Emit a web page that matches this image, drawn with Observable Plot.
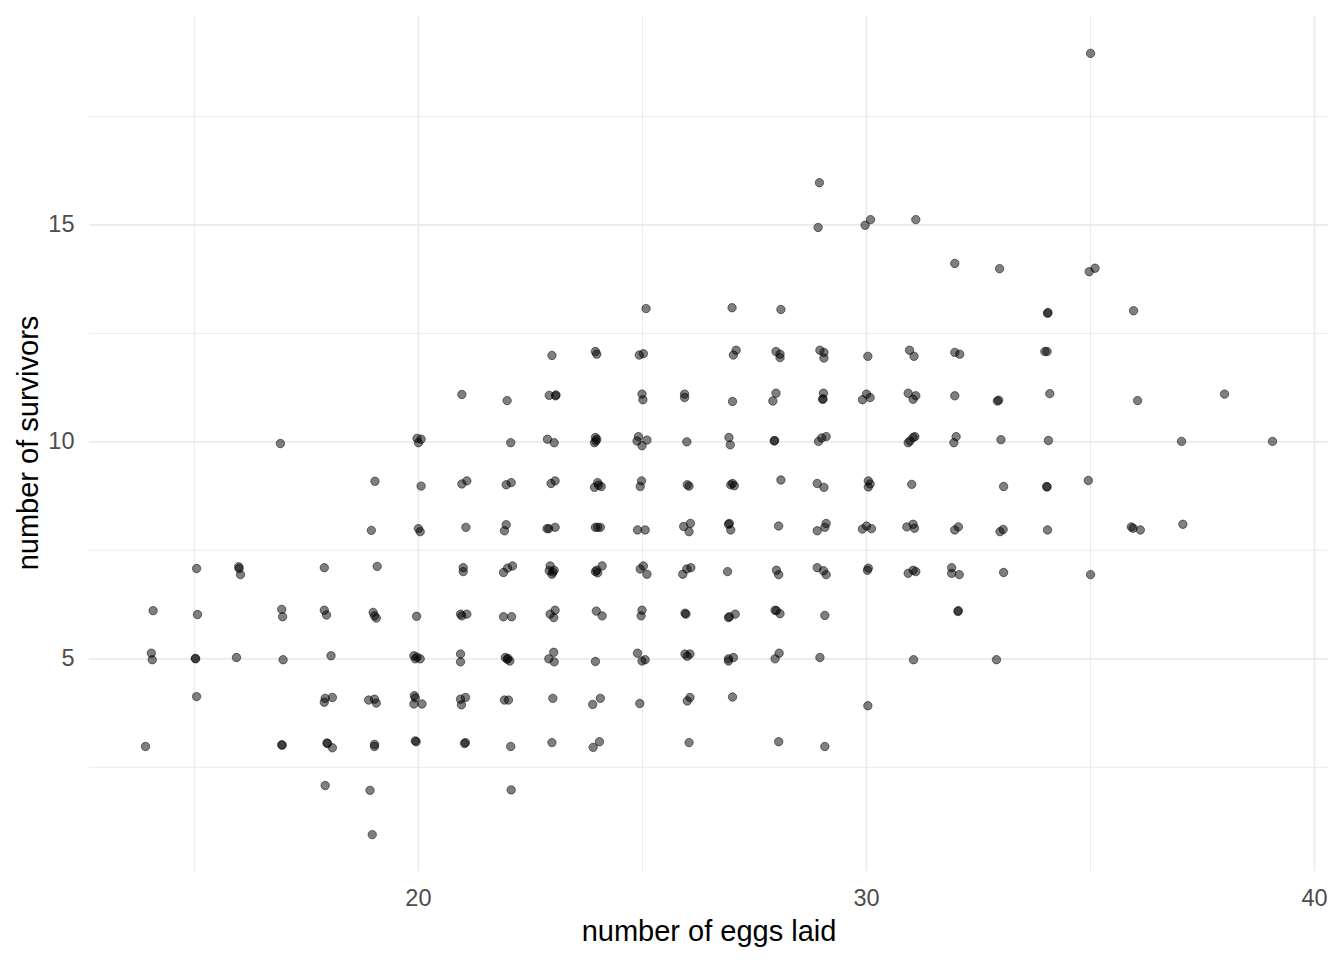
<!DOCTYPE html>
<html>
<head>
<meta charset="utf-8">
<script src="https://cdn.jsdelivr.net/npm/d3@7"></script>
<script src="https://cdn.jsdelivr.net/npm/@observablehq/plot@0.6"></script>
<style>
  html, body { margin: 0; padding: 0; background: #fff; }
  #chart { width: 1344px; height: 960px; }
</style>
</head>
<body>
<div id="chart"></div>
<script>
const eggs = [
  16.92,19.03,18.95,15.05,15.99,16.00,16.03,17.90,19.08,14.08,15.07,16.95,16.97,17.90,17.95,18.99,19.02,19.06,
  14.04,14.06,15.03,15.02,15.94,16.98,18.05,15.05,17.90,18.08,17.92,18.89,19.02,19.06,13.91,16.95,16.96,17.96,
  17.97,18.08,19.02,19.02,17.92,18.92,18.97,
  22.98,23.95,23.98,24.93,25.02,20.97,21.98,22.92,23.07,23.06,24.99,25.01,25.94,25.94,19.97,20.06,20.00,22.06,
  22.88,23.03,23.95,23.93,23.98,23.96,24.91,25.10,24.99,24.88,25.99,20.06,20.97,21.08,21.96,22.07,22.96,23.05,
  24.00,23.93,24.08,24.02,24.98,24.95,26.00,26.04,20.00,20.04,21.06,21.96,21.92,22.91,23.05,22.87,23.95,24.06,
  24.00,24.89,25.06,25.92,26.07,26.04,21.00,21.00,21.90,21.99,22.10,22.94,22.98,23.03,22.92,23.00,23.98,24.10,
  23.95,24.00,24.95,25.10,25.02,25.90,25.99,26.08,
  19.96,20.94,21.08,20.97,21.90,22.08,22.94,23.05,23.02,23.97,24.10,24.99,24.97,25.95,25.97,19.90,20.04,19.93,
  19.97,20.94,20.94,21.94,22.04,21.98,22.00,22.91,23.02,23.03,23.95,24.89,24.99,25.06,25.95,26.06,26.00,19.91,
  19.90,20.08,19.93,20.94,21.05,20.96,21.92,22.01,23.00,23.89,24.06,24.94,26.00,26.06,19.95,19.93,21.05,21.03,
  22.06,22.98,23.90,24.04,26.04,22.07,
  27.03,27.09,27.98,28.07,28.07,28.96,29.05,29.05,30.03,30.96,31.06,31.97,32.08,27.01,27.91,27.98,29.04,29.02,
  29.03,29.91,30.00,30.08,30.93,31.10,31.04,31.97,26.93,26.96,27.94,27.95,28.93,29.10,29.00,30.97,31.04,30.93,
  31.08,32.00,31.95,27.01,26.97,27.05,28.09,28.90,29.05,30.04,30.04,30.08,31.01,26.94,26.97,26.92,28.04,28.90,
  29.10,29.07,29.91,30.00,30.11,30.90,31.04,31.07,31.97,32.05,26.90,27.99,28.04,28.90,29.04,29.10,30.02,30.04,
  30.93,31.10,31.04,31.90,32.07,31.90,
  26.94,27.07,26.92,27.96,28.07,27.99,29.07,32.05,32.04,26.92,27.03,26.92,27.96,28.05,28.96,31.05,27.01,30.03,
  28.04,29.07,
  33.98,34.03,32.92,32.95,34.09,36.05,37.99,33.00,34.06,37.03,39.06,33.06,34.03,34.02,34.95,32.98,33.05,34.04,
  35.91,35.95,36.11,37.06,33.06,35.00,32.90,
  28.95,28.92,29.97,30.09,25.08,27.00,28.09,
  35.00,31.10,31.97,32.97,34.97,35.10,34.05,34.04,35.96
];
const survivors = [
  9.96,9.09,7.96,7.08,7.12,7.08,6.94,7.10,7.13,6.11,6.02,6.14,5.97,6.12,6.01,6.07,5.99,5.94,
  5.13,4.98,5.00,5.01,5.03,4.98,5.07,4.13,4.00,4.11,4.09,4.05,4.07,3.98,2.98,3.02,3.01,3.06,
  3.05,2.95,3.03,2.98,2.08,1.97,0.95,
  11.99,12.08,12.02,12.00,12.03,11.09,10.95,11.07,11.08,11.06,11.10,10.97,11.10,11.02,10.08,10.06,9.98,9.98,
  10.06,9.98,10.10,9.98,10.06,10.02,10.12,10.04,9.91,10.02,10.00,8.98,9.03,9.10,9.01,9.06,9.04,9.10,
  9.06,8.95,8.97,9.00,9.10,8.97,9.01,8.98,8.00,7.93,8.03,8.09,7.95,8.00,8.03,8.00,8.03,8.03,
  8.03,7.97,7.97,8.05,8.12,7.93,7.10,7.01,6.99,7.09,7.14,7.14,6.95,7.04,7.03,7.00,7.04,7.14,
  7.01,6.98,7.07,6.95,7.14,6.95,7.07,7.10,
  5.98,6.03,6.03,5.99,5.97,5.97,6.03,6.12,5.95,6.10,5.99,6.12,5.99,6.05,6.03,5.07,5.00,5.00,
  5.04,5.11,4.93,5.03,4.95,4.99,5.01,5.00,5.15,4.93,4.94,5.13,4.95,4.98,5.11,5.11,5.06,4.15,
  3.96,3.96,4.10,4.07,4.11,3.94,4.05,4.05,4.09,3.95,4.09,3.97,4.03,4.11,3.09,3.11,3.07,3.05,
  2.98,3.07,2.96,3.09,3.07,1.98,
  12.00,12.11,12.08,11.94,12.02,12.11,11.93,12.06,11.97,12.11,11.97,12.06,12.02,10.93,10.94,11.12,11.12,10.98,
  10.99,10.97,11.10,11.02,11.12,11.06,10.98,11.06,10.10,9.93,10.02,10.03,10.01,10.12,10.09,10.02,10.10,9.98,
  10.12,10.12,9.98,9.04,9.01,8.99,9.12,9.04,8.95,9.10,8.96,9.03,9.02,8.12,7.97,8.10,8.06,7.95,
  8.12,8.03,7.99,8.06,8.00,8.04,8.10,8.01,7.97,8.04,7.01,7.04,6.94,7.10,7.03,6.94,7.04,7.09,
  6.97,7.01,7.04,7.10,6.94,6.97,
  5.97,6.03,5.95,6.12,6.04,6.11,6.00,6.11,6.09,5.00,5.03,4.95,5.00,5.13,5.03,4.98,4.12,3.92,
  3.09,2.98,
  12.08,12.08,10.94,10.96,11.11,10.95,11.10,10.05,10.03,10.01,10.01,8.97,8.96,8.97,9.11,7.93,7.98,7.97,
  8.04,8.01,7.97,8.10,6.99,6.94,4.98,
  15.97,14.94,14.99,15.12,13.07,13.09,13.05,
  18.95,15.12,14.11,13.99,13.92,14.00,12.98,12.96,13.02
];

const xTicks = [20, 30, 40];
const xMinor = [15, 25, 35];
const yTicks = [5, 10, 15];
const yMinor = [2.5, 7.5, 12.5, 17.5];
const xTitle = ["number of eggs laid"];
const yTitle = ["number of survivors"];

const data = eggs.map((e, i) => ({eggs: e, survivors: survivors[i]}));

const grid = "#ebebeb";
const chart = Plot.plot({
  width: 1344,
  height: 960,
  marginLeft: 89,
  marginRight: 16,
  marginTop: 16,
  marginBottom: 89,
  x: {domain: [12.66, 40.31]},
  y: {domain: [0.1, 19.8]},
  style: {fontFamily: "'Liberation Sans', Arial, sans-serif", background: "#fff", overflow: "visible"},
  marks: [
    Plot.ruleX(xMinor, {stroke: grid, strokeWidth: 1}),
    Plot.ruleY(yMinor, {stroke: grid, strokeWidth: 1}),
    Plot.ruleX(xTicks, {stroke: grid, strokeWidth: 1.7}),
    Plot.ruleY(yTicks, {stroke: grid, strokeWidth: 1.7}),
    Plot.axisX(xTicks, {tickSize: 0, tickPadding: 18, fontSize: 23.5, color: "#4d4d4d", label: null}),
    Plot.axisY(yTicks, {tickSize: 0, tickPadding: 15, fontSize: 23.5, color: "#4d4d4d", label: null}),
    Plot.text(xTitle, {text: d => d, frameAnchor: "bottom", dy: 69, lineAnchor: "bottom", textAnchor: "middle", fontSize: 29, fill: "#000"}),
    Plot.text(yTitle, {text: d => d, frameAnchor: "left", dx: -52, dy: -1, rotate: -90, lineAnchor: "bottom", textAnchor: "middle", fontSize: 29, fill: "#000"}),
    Plot.dot(data, {x: "eggs", y: "survivors", r: 4.2, fill: "#000", fillOpacity: 0.5, stroke: "#000", strokeOpacity: 0.5, strokeWidth: 1})
  ]
});
document.getElementById("chart").appendChild(chart);
</script>
</body>
</html>
